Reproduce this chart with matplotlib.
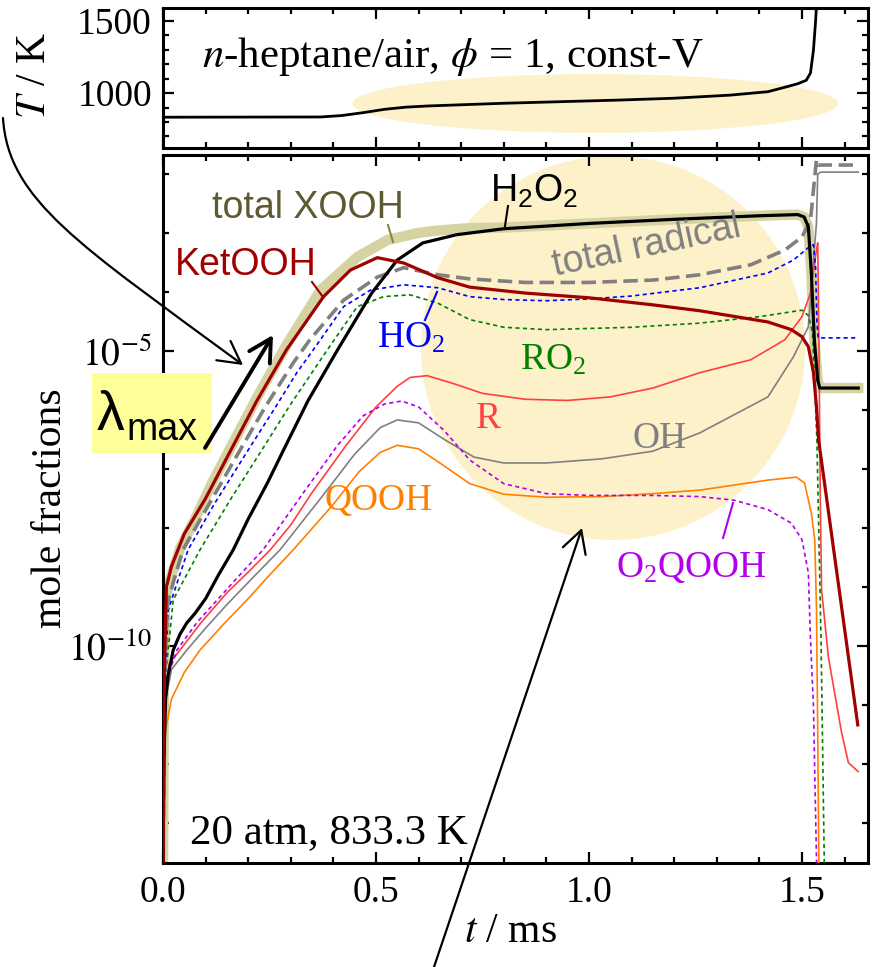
import numpy as np
import matplotlib.pyplot as plt
from matplotlib.patches import Ellipse, Rectangle, FancyArrowPatch
from matplotlib.path import Path
from matplotlib.ticker import FixedLocator, NullFormatter, MultipleLocator

plt.rcParams['mathtext.fontset'] = 'stix'
plt.rcParams['font.family'] = ['Liberation Serif', 'DejaVu Serif']

W, H = 874, 967

# temperature trace (ms, K)
t_T = [0.0, 0.37, 0.42, 0.47, 0.52, 0.57, 0.62, 0.8, 1.07, 1.2, 1.33, 1.42, 1.46, 1.49, 1.51, 1.52, 1.527, 1.532, 1.535]
T_K = [833.3, 835, 845, 865, 888, 903, 911, 930, 952, 965, 986, 1010, 1041, 1065, 1089, 1140, 1300, 1500, 1650]

# species, log10 mole fraction vs time (ms)
t_xooh = [0.0, 0.002, 0.005, 0.016, 0.04, 0.08, 0.118, 0.158, 0.22, 0.29, 0.37, 0.456, 0.527, 0.6, 0.645, 0.72,
          0.8, 1.0, 1.2, 1.4, 1.49, 1.505, 1.515, 1.522, 1.529, 1.537, 1.542, 1.632]
lg_xooh = [-14, -10.5, -9.2, -8.9, -8.35, -7.78, -7.2, -6.65, -5.8, -4.9, -3.97, -3.41, -3.12, -3.0, -2.96, -2.92,
           -2.91, -2.84, -2.77, -2.71, -2.69, -2.73, -2.9, -3.68, -4.81, -5.5, -5.63, -5.63]

t_h2o2 = [0.0, 0.002, 0.006, 0.012, 0.024, 0.04, 0.056, 0.075, 0.10, 0.13, 0.165, 0.2, 0.245, 0.283, 0.34, 0.41,
          0.49, 0.55, 0.61, 0.69, 0.8, 1.0, 1.2, 1.4, 1.49, 1.505, 1.515, 1.522, 1.529, 1.537, 1.542, 1.632]
lg_h2o2 = [-14, -12, -10.9, -10.5, -10.07, -9.8, -9.61, -9.45, -9.2, -8.8, -8.37, -7.85, -7.24, -6.68, -5.85, -4.98,
           -4.02, -3.46, -3.17, -3.03, -2.93, -2.84, -2.77, -2.71, -2.69, -2.73, -2.9, -3.68, -4.81, -5.5, -5.63, -5.63]

t_ket = [0.0, 0.003, 0.008, 0.02, 0.05, 0.10, 0.158, 0.22, 0.29, 0.377, 0.44, 0.503, 0.565, 0.645, 0.72, 0.85,
         1.0, 1.15, 1.26, 1.42, 1.475, 1.5, 1.515, 1.527, 1.534, 1.539, 1.631]
lg_ket = [-14, -10.5, -9.0, -8.65, -8.1, -7.5, -6.7, -5.85, -4.98, -4.08, -3.63, -3.42, -3.51, -3.76, -3.92, -4.02,
          -4.1, -4.22, -4.32, -4.51, -4.64, -4.76, -4.93, -5.37, -5.95, -6.51, -11.34]

t_rad = [0.0, 0.004, 0.01, 0.025, 0.047, 0.1, 0.181, 0.24, 0.306, 0.346, 0.424, 0.503, 0.565, 0.645, 0.72, 0.85,
         1.0, 1.15, 1.26, 1.38, 1.46, 1.5, 1.52, 1.534, 1.537, 1.632]
lg_rad = [-14, -10.5, -9.3, -8.9, -8.37, -7.7, -6.68, -5.95, -5.2, -4.8, -4.14, -3.75, -3.59, -3.71, -3.78, -3.84,
          -3.84, -3.8, -3.71, -3.54, -3.29, -3.07, -2.78, -1.76, -1.85, -1.85]

t_ho2 = [0.0, 0.004, 0.012, 0.03, 0.059, 0.12, 0.2, 0.26, 0.315, 0.353, 0.424, 0.487, 0.565, 0.645, 0.72, 0.8,
         0.9, 1.0, 1.1, 1.26, 1.42, 1.48, 1.515, 1.527, 1.532, 1.535, 1.538, 1.632]
lg_ho2 = [-14, -10.8, -9.4, -9.0, -8.37, -7.6, -6.68, -6.0, -5.36, -4.98, -4.25, -3.97, -3.88, -3.93, -4.08, -4.13,
          -4.15, -4.12, -4.07, -3.93, -3.68, -3.46, -3.25, -3.2, -3.6, -4.5, -4.78, -4.78]

t_ro2 = [0.0, 0.006, 0.024, 0.087, 0.16, 0.232, 0.3, 0.386, 0.456, 0.518, 0.58, 0.645, 0.72, 0.8, 0.9, 1.0, 1.1,
         1.26, 1.4, 1.5, 1.515, 1.525, 1.535, 1.545, 1.553]
lg_ro2 = [-14, -10.5, -9.22, -8.37, -7.5, -6.68, -5.9, -4.98, -4.25, -4.08, -4.05, -4.19, -4.47, -4.6, -4.64, -4.62,
          -4.6, -4.53, -4.42, -4.31, -4.4, -4.7, -6.5, -10, -14]

t_r = [0.0, 0.004, 0.015, 0.04, 0.09, 0.15, 0.2, 0.252, 0.3, 0.35, 0.43, 0.5, 0.55, 0.58, 0.62, 0.68, 0.75, 0.85,
       0.95, 1.05, 1.15, 1.26, 1.38, 1.46, 1.5, 1.52, 1.534, 1.537, 1.54, 1.543, 1.546, 1.562, 1.593, 1.609, 1.632]
lg_r = [-14, -10.8, -10.3, -10.07, -9.6, -9.1, -8.75, -8.37, -7.95, -7.4, -6.6, -5.95, -5.6, -5.45, -5.42, -5.55,
        -5.72, -5.82, -5.84, -5.78, -5.63, -5.37, -5.15, -4.81, -4.42, -4.02, -3.29, -3.17, -5.0, -7.5, -9.05, -10.19,
        -11.47, -11.98, -12.13]

t_oh = [0.0, 0.004, 0.02, 0.056, 0.1, 0.15, 0.21, 0.275, 0.37, 0.45, 0.51, 0.55, 0.6, 0.66, 0.73, 0.8, 0.9, 1.03,
        1.15, 1.26, 1.42, 1.48, 1.515, 1.534, 1.537, 1.545, 1.632]
lg_oh = [-14, -11.0, -10.4, -10.07, -9.7, -9.3, -8.85, -8.37, -7.5, -6.75, -6.3, -6.17, -6.22, -6.5, -6.8, -6.9, -6.9,
         -6.83, -6.7, -6.39, -5.78, -5.1, -4.59, -2.83, -2.0, -1.97, -1.97]

t_qooh = [0.0, 0.004, 0.02, 0.05, 0.087, 0.14, 0.2, 0.25, 0.306, 0.4, 0.46, 0.51, 0.55, 0.6, 0.65, 0.72, 0.8, 0.9,
          1.03, 1.15, 1.26, 1.42, 1.487, 1.506, 1.522, 1.53, 1.534, 1.537, 1.54]
lg_qooh = [-14, -11.5, -10.9, -10.45, -10.07, -9.65, -9.2, -8.8, -8.37, -7.6, -7.05, -6.72, -6.6, -6.66, -6.9, -7.25,
           -7.43, -7.48, -7.47, -7.42, -7.36, -7.19, -7.14, -7.24, -7.75, -8.2, -9.34, -11.5, -14]

t_o2qooh = [0.0, 0.003, 0.012, 0.033, 0.08, 0.13, 0.18, 0.235, 0.33, 0.41, 0.47, 0.52, 0.56, 0.6, 0.66, 0.72, 0.8,
            0.9, 1.0, 1.15, 1.26, 1.34, 1.42, 1.475, 1.5, 1.515, 1.52, 1.527, 1.53, 1.534, 1.536]
lg_o2qooh = [-14, -11.0, -10.5, -10.07, -9.6, -9.2, -8.8, -8.37, -7.4, -6.6, -6.1, -5.9, -5.85, -5.95, -6.35, -6.85,
             -7.25, -7.42, -7.45, -7.45, -7.47, -7.53, -7.69, -7.92, -8.2, -8.76, -9.9, -11.03, -12.15, -13.58, -14]


def F(x, y):
    # pixel position (from top-left) -> figure fraction
    return (x / W, 1 - y / H)


fig = plt.figure(figsize=(W / 100, H / 100), dpi=100)
axT = fig.add_axes([163 / W, 1 - 148 / H, 705 / W, 140 / H])
ax = fig.add_axes([163 / W, 1 - 863 / H, 705 / W, 708 / H])

for a in (axT, ax):
    for s in a.spines.values():
        s.set_linewidth(2.2)
    a.tick_params(which='both', direction='in', top=True, right=True, width=1.6, labelsize=27, pad=8)
    a.tick_params(which='major', length=8)
    a.tick_params(which='minor', length=4.5)
    a.set_xlim(0, 1.655)
    a.xaxis.set_major_locator(MultipleLocator(0.5))
    a.xaxis.set_minor_locator(MultipleLocator(0.1))

yellow = '#fdf1ca'

# temperature panel
axT.add_patch(Ellipse((0.613, 0.318), 0.689, 0.42, transform=axT.transAxes, color=yellow, lw=0, zorder=0))
axT.plot(t_T, T_K, color='black', lw=2.0)
axT.set_ylim(620, 1590)
axT.yaxis.set_major_locator(FixedLocator([1000, 1500]))
axT.yaxis.set_minor_locator(MultipleLocator(100))
axT.set_xticklabels([])
axT.text(F(202, 57)[0], F(202, 57)[1], r'$n$-heptane/air, $\phi$ = 1, const-V', transform=fig.transFigure,
         fontsize=31, va='center', ha='left')

# species panel
ax.add_patch(Ellipse((0.6383, 0.7274), 0.5447, 0.5424, transform=ax.transAxes, color=yellow, lw=0, zorder=0))
ax.set_yscale('log')
ax.set_ylim(10 ** -13.68, 10 ** -1.68)
ax.yaxis.set_major_locator(FixedLocator([1e-10, 1e-5]))
ax.yaxis.set_minor_locator(FixedLocator([10.0 ** k for k in range(-13, -1)]))
ax.yaxis.set_minor_formatter(NullFormatter())
ax.set_yticklabels([r'$10^{-10}$', r'$10^{-5}$'])
ax.xaxis.set_major_formatter(plt.FuncFormatter(lambda v, p: '%.1f' % v))
ax.tick_params(axis='x', pad=9)

def pl(t, lg, **kw):
    ax.plot(t, 10.0 ** np.array(lg), **kw)

pl(t_xooh, lg_xooh, color='#d6d3a3', lw=7.5, solid_joinstyle='round', zorder=2)
pl(t_qooh, lg_qooh, color='#ff8000', lw=1.2, zorder=3)
pl(t_oh, lg_oh, color='#808080', lw=1.2, zorder=3)
pl(t_r, lg_r, color='#ff4040', lw=1.2, zorder=3)
pl(t_o2qooh, lg_o2qooh, color='#b000ee', lw=1.2, ls=(0, (2.5, 2)), zorder=3)
pl(t_ro2, lg_ro2, color='#008000', lw=1.2, ls=(0, (2.5, 2)), zorder=3)
pl(t_ho2, lg_ho2, color='#0000ff', lw=1.2, ls=(0, (2.5, 2)), zorder=3)
pl(t_rad, lg_rad, color='#808080', lw=2.6, ls=(0, (4, 1.8)), zorder=4)
pl(t_h2o2, lg_h2o2, color='black', lw=2.3, zorder=5)
pl(t_ket, lg_ket, color='#a00000', lw=2.3, zorder=6)

# axis labels
fig.text(*F(35, 75), r'$T$ / K', rotation=90, ha='center', va='center', fontsize=30)
fig.text(*F(51, 508), 'mole fractions', rotation=90, ha='center', va='center', fontsize=30)
fig.text(*F(511, 932), r'$t$ / ms', ha='center', va='center', fontsize=30)
fig.text(*F(190, 843), '20 atm, 833.3 K', ha='left', va='baseline', fontsize=31)

# curve labels
sans = ['Liberation Sans', 'DejaVu Sans']
fig.text(*F(212, 218), 'total XOOH', family=sans, fontsize=27, color='#5e5930', va='baseline')
fig.text(*F(175, 275), 'KetOOH', family=sans, fontsize=27, color='#a00000', va='baseline')
fig.text(*F(490, 202), r'$\mathregular{H_2O_2}$', family=sans, fontsize=27, color='black', va='baseline')
fig.text(*F(555, 276), 'total radical', family=sans, fontsize=27, color='#808080', va='baseline',
         rotation=12, rotation_mode='anchor')
fig.text(*F(377, 348), r'$\mathregular{HO_2}$', fontsize=27, color='#0000ff', va='baseline')
fig.text(*F(520, 370), r'$\mathregular{RO_2}$', fontsize=27, color='#008000', va='baseline')
fig.text(*F(476, 428), 'R', fontsize=27, color='#ff4040', va='baseline')
fig.text(*F(632, 448), 'OH', fontsize=27, color='#808080', va='baseline')
fig.text(*F(325, 510), 'QOOH', fontsize=27, color='#ff8000', va='baseline')
fig.text(*F(767, 577), r'$\mathregular{O_2QOOH}$', fontsize=27, color='#b000ee', va='baseline', ha='right')

def seg(p0, p1, color, lw=1.5):
    (x0, y0), (x1, y1) = F(*p0), F(*p1)
    fig.add_artist(plt.Line2D([x0, x1], [y0, y1], color=color, lw=lw, transform=fig.transFigure))

seg((312, 282), (323, 297), '#a00000')
seg((388, 225), (393, 242), '#8a8540')
seg((437, 292), (425, 320), '#0000ff')
seg((508, 206), (505, 226), 'black')
seg((733, 503), (723, 538), '#b000ee')

# lambda_max box and arrows
fig.add_artist(Rectangle(F(92, 453), 120 / W, 80 / H, transform=fig.transFigure, color='#ffff99', lw=0))
fig.text(*F(97, 430), 'λ', family=sans, fontsize=40, va='baseline')
fig.text(*F(126, 440), 'max', family=sans, fontsize=27, va='baseline')

def arrow(verts, codes, lw=1.6, hl=14, hw=8):
    p = Path([F(*v) for v in verts], codes)
    fig.add_artist(FancyArrowPatch(path=p, arrowstyle='->,head_length=%g,head_width=%g' % (hl / 1.39, hw / 1.39),
                                   transform=fig.transFigure, color='black', lw=lw))

arrow([(205, 448), (273, 335)], [Path.MOVETO, Path.LINETO], lw=2.8, hl=22, hw=12)
arrow([(3, 118), (8, 200), (80, 245), (243, 365)], [Path.MOVETO, Path.CURVE4, Path.CURVE4, Path.CURVE4],
      lw=1.6, hl=22, hw=12)
arrow([(434, 967), (582, 528)], [Path.MOVETO, Path.LINETO], lw=1.6, hl=22, hw=12)

fig.savefig('out.png', dpi=100)
